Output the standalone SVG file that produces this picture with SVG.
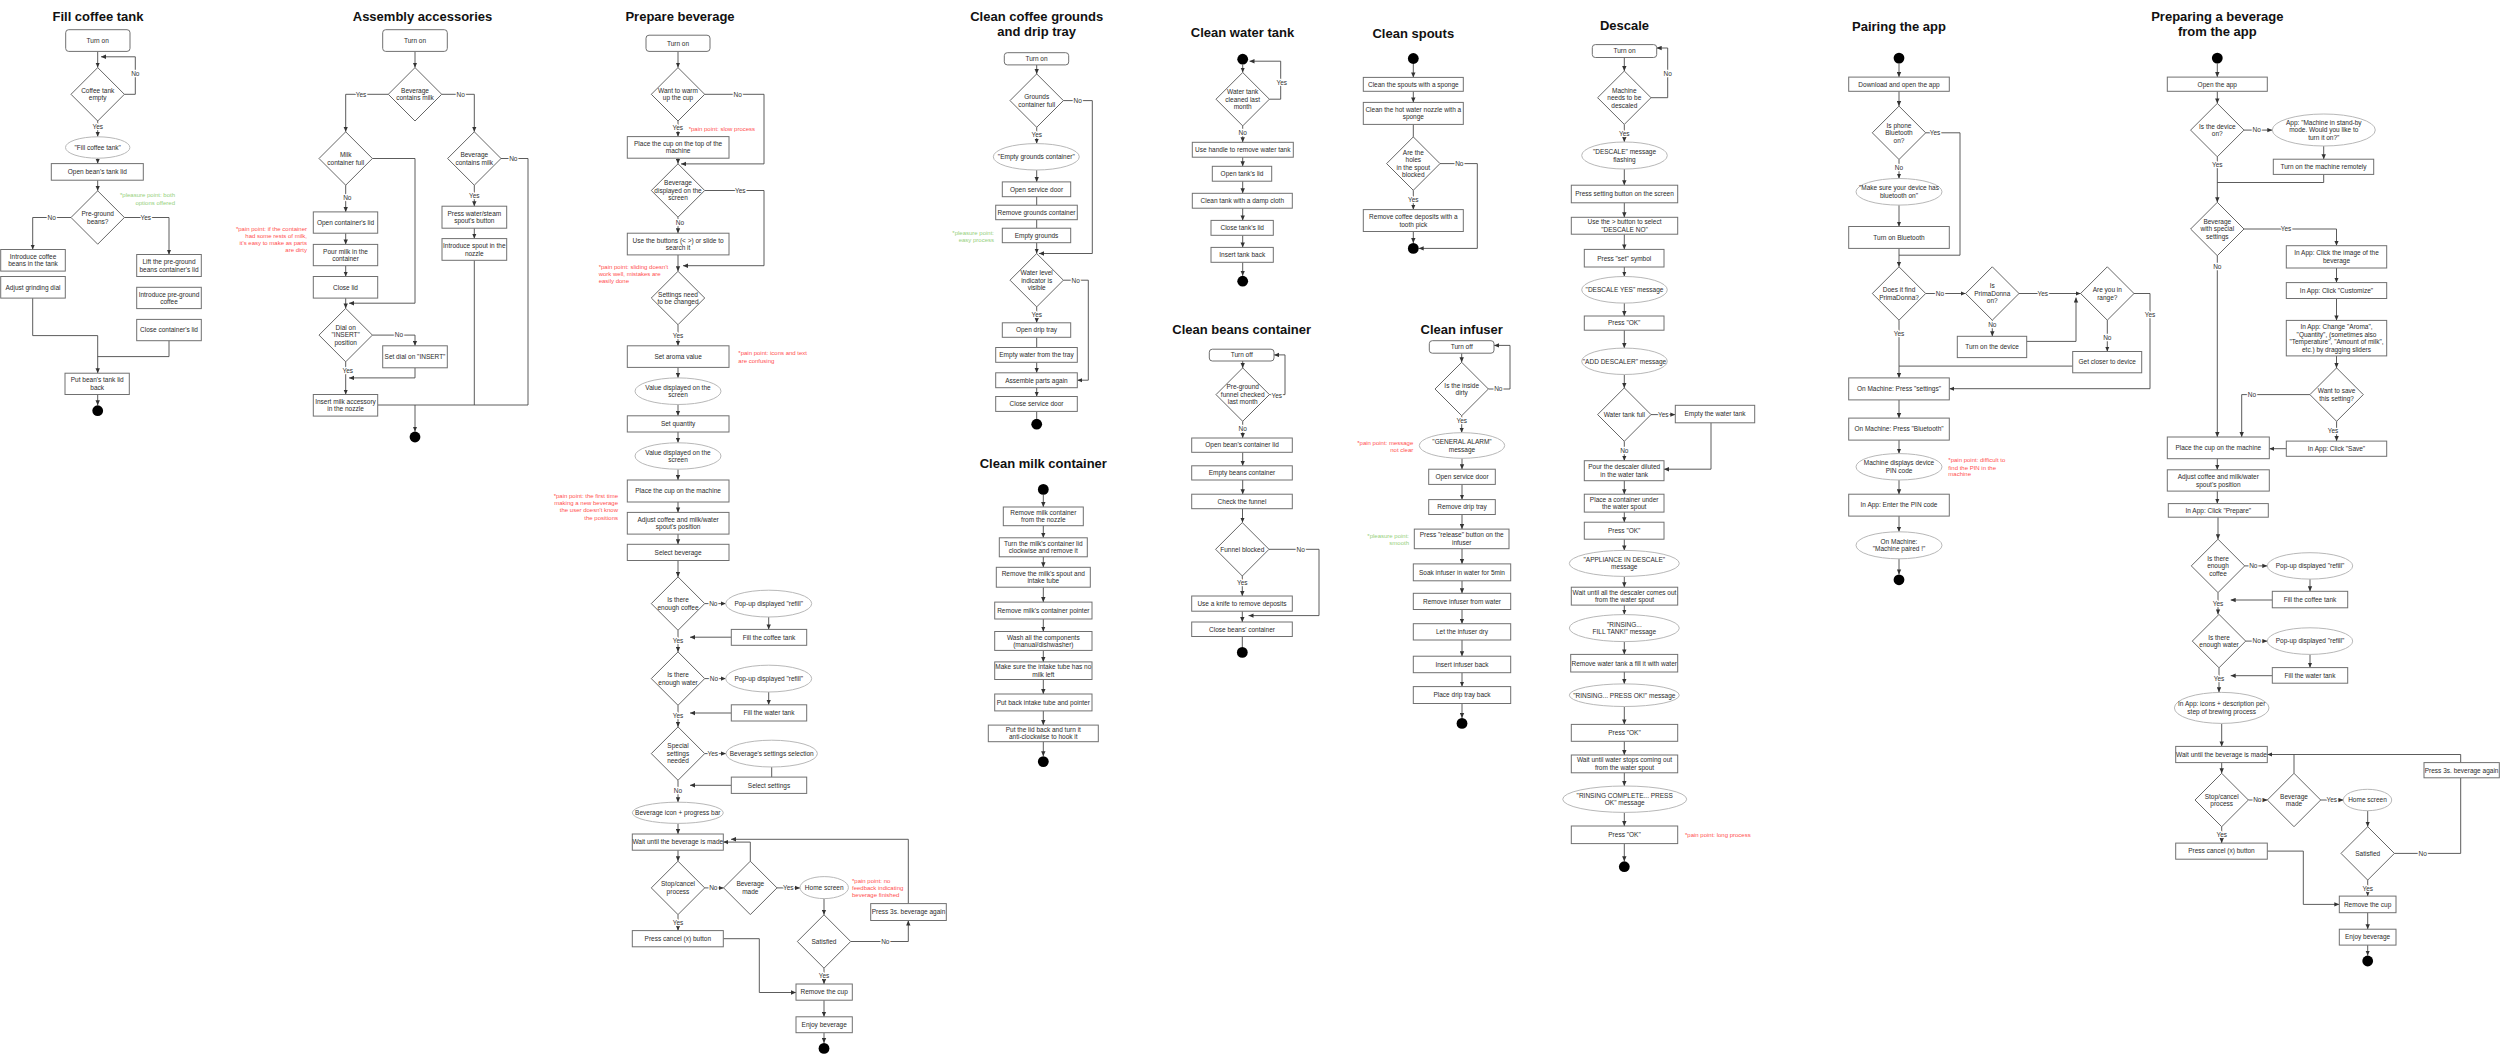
<svg xmlns="http://www.w3.org/2000/svg" width="2500" height="1055" viewBox="0 0 2500 1055">
<defs>
<style>
text{font-family:"Liberation Sans",Arial,sans-serif;}
.h{font-size:13px;font-weight:bold;fill:#111;text-anchor:middle}
.t{font-size:6.5px;fill:#2a2a2a;text-anchor:middle}
.b{fill:#fff;stroke:#707070;stroke-width:1}
.e{fill:#fff;stroke:#b8b8b8;stroke-width:1}
.d{fill:#fff;stroke:#555;stroke-width:0.9}
.k{fill:#000}
.c{fill:none;stroke:#4a4a4a;stroke-width:0.9}
.l{font-size:6.5px;fill:#333;text-anchor:middle;paint-order:stroke;stroke:#fff;stroke-width:2.5px;stroke-linejoin:round}
.p{font-size:6px;fill:#ff4f4f}
.g{font-size:6px;fill:#95d07c}
.en{text-anchor:end}
</style>
<marker id="a" viewBox="0 0 8 8" refX="8" refY="4" markerWidth="5" markerHeight="5" markerUnits="userSpaceOnUse" orient="auto"><path d="M0,0.5L8,4L0,7.5Z" fill="#333"/></marker>
</defs>
<rect width="2500" height="1055" fill="#fff"/>

<g id="titles">
<text class="h" x="98" y="21">Fill coffee tank</text>
<text class="h" x="422.5" y="21">Assembly accessories</text>
<text class="h" x="680" y="21">Prepare beverage</text>
<text class="h" x="1036.7" y="21">Clean coffee grounds<tspan x="1036.7" dy="14.5">and drip tray</tspan></text>
<text class="h" x="1043.3" y="467.5">Clean milk container</text>
<text class="h" x="1242.5" y="37.2">Clean water tank</text>
<text class="h" x="1241.7" y="334">Clean beans container</text>
<text class="h" x="1413.3" y="37.9">Clean spouts</text>
<text class="h" x="1461.7" y="334">Clean infuser</text>
<text class="h" x="1624.5" y="30.4">Descale</text>
<text class="h" x="1899" y="31.1">Pairing the app</text>
<text class="h" x="2217.3" y="21">Preparing a beverage<tspan x="2217.3" dy="14.5">from the app</tspan></text>
</g>

<g id="connectors">
<!-- Fill coffee tank -->
<path class="c" marker-end="url(#a)" d="M97.7,51.4V67.6"/>
<path class="c" marker-end="url(#a)" d="M124.4,94.3H135.3V56.8H101"/>
<path class="c" marker-end="url(#a)" d="M97.7,121V136.8"/>
<path class="c" marker-end="url(#a)" d="M97.7,158.2V163.6"/>
<path class="c" marker-end="url(#a)" d="M97.7,180.2V190.8"/>
<path class="c" marker-end="url(#a)" d="M71,217.5H32.7V249.5"/>
<path class="c" marker-end="url(#a)" d="M124.4,217.5H169V254.5"/>
<path class="c" d="M32.7,298.1V335.6H97.7"/>
<path class="c" d="M169,340.7V356.6H97.7"/>
<path class="c" marker-end="url(#a)" d="M97.7,335.6V373.2"/>
<path class="c" marker-end="url(#a)" d="M97.7,394.5V405.3"/>
<!-- Assembly accessories -->
<path class="c" marker-end="url(#a)" d="M415,51.4V67.6"/>
<path class="c" marker-end="url(#a)" d="M388.3,94.3H345.7V131.8"/>
<path class="c" marker-end="url(#a)" d="M441.7,94.3H474.3V131.8"/>
<path class="c" marker-end="url(#a)" d="M372.4,158.5H415V303.2H349"/>
<path class="c" marker-end="url(#a)" d="M345.7,185.2V211.9"/>
<path class="c" marker-end="url(#a)" d="M345.7,233.2V244.4"/>
<path class="c" marker-end="url(#a)" d="M345.7,265.7V276.5"/>
<path class="c" marker-end="url(#a)" d="M345.7,298.1V308.4"/>
<path class="c" marker-end="url(#a)" d="M372.4,335.1H415V345.8"/>
<path class="c" marker-end="url(#a)" d="M415,367.8V377.9H349"/>
<path class="c" marker-end="url(#a)" d="M345.7,361.8V394.5"/>
<path class="c" d="M377.7,405H415"/>
<path class="c" d="M501,158.5H528V405H415"/>
<path class="c" marker-end="url(#a)" d="M474.3,185.2V206.2"/>
<path class="c" marker-end="url(#a)" d="M474.3,228.2V238.6"/>
<path class="c" d="M474.3,260.3V405"/>
<path class="c" marker-end="url(#a)" d="M415,405V431.6"/>
<!-- Prepare beverage -->
<path class="c" marker-end="url(#a)" d="M678,51.4V67.6"/>
<path class="c" marker-end="url(#a)" d="M704.7,94.3H764V163.9H681"/>
<path class="c" marker-end="url(#a)" d="M678,121V136.6"/>
<path class="c" marker-end="url(#a)" d="M678,158.2V163.8"/>
<path class="c" marker-end="url(#a)" d="M704.7,190.5H764V265.7H683"/>
<path class="c" marker-end="url(#a)" d="M678,217.2V233.2"/>
<path class="c" marker-end="url(#a)" d="M678,254.9V271.3"/>
<path class="c" marker-end="url(#a)" d="M678,324.7V345.8"/>
<path class="c" marker-end="url(#a)" d="M678,367.4V377.9"/>
<path class="c" marker-end="url(#a)" d="M678,404.5V415.8"/>
<path class="c" marker-end="url(#a)" d="M678,432V442.8"/>
<path class="c" marker-end="url(#a)" d="M678,469.2V480"/>
<path class="c" marker-end="url(#a)" d="M678,502V512.4"/>
<path class="c" marker-end="url(#a)" d="M678,534.1V544.3"/>
<path class="c" marker-end="url(#a)" d="M678,560.5V576.9"/>
<path class="c" marker-end="url(#a)" d="M704.7,603.6H725.7"/>
<path class="c" marker-end="url(#a)" d="M768.7,617V629.4"/>
<path class="c" marker-end="url(#a)" d="M731.3,637.2H690"/>
<path class="c" marker-end="url(#a)" d="M678,630.3V651.9"/>
<path class="c" marker-end="url(#a)" d="M704.7,678.6H725.7"/>
<path class="c" marker-end="url(#a)" d="M768.7,692V704.8"/>
<path class="c" marker-end="url(#a)" d="M731.3,713H690"/>
<path class="c" marker-end="url(#a)" d="M678,705.3V726.9"/>
<path class="c" marker-end="url(#a)" d="M704.7,753.6H726"/>
<path class="c" d="M771.7,767V777.1"/>
<path class="c" marker-end="url(#a)" d="M731.3,785.3H690"/>
<path class="c" marker-end="url(#a)" d="M678,780.3V802.2"/>
<path class="c" marker-end="url(#a)" d="M678,823.4V834"/>
<path class="c" marker-end="url(#a)" d="M678,850.2V861.2"/>
<path class="c" marker-end="url(#a)" d="M704.7,887.9H723.6"/>
<path class="c" marker-end="url(#a)" d="M750.3,861.2V842.1H723.3"/>
<path class="c" marker-end="url(#a)" d="M777,887.9H800"/>
<path class="c" marker-end="url(#a)" d="M824,898.6V914.8"/>
<path class="c" marker-end="url(#a)" d="M850.7,941.5H908.3V920.5"/>
<path class="c" marker-end="url(#a)" d="M908.3,903.6V839.3H731"/>
<path class="c" marker-end="url(#a)" d="M678,914.6V930.6"/>
<path class="c" marker-end="url(#a)" d="M723.3,938.7H759.3V992.5H796"/>
<path class="c" marker-end="url(#a)" d="M824,968.2V984"/>
<path class="c" marker-end="url(#a)" d="M824,1000.2V1016.8"/>
<path class="c" marker-end="url(#a)" d="M824,1032.7V1043"/>
<!-- Clean coffee grounds -->
<path class="c" marker-end="url(#a)" d="M1036.7,64.9V73.9"/>
<path class="c" marker-end="url(#a)" d="M1063.4,100.6H1092.3V253.5H1039"/>
<path class="c" marker-end="url(#a)" d="M1036.7,127.3V143.6"/>
<path class="c" marker-end="url(#a)" d="M1036.7,170V181.9"/>
<path class="c" d="M1036.7,196.7V205.2"/>
<path class="c" d="M1036.7,219.7V228.2"/>
<path class="c" marker-end="url(#a)" d="M1036.7,242.7V253.5"/>
<path class="c" marker-end="url(#a)" d="M1063.4,280.2H1088.3V380.2H1077.3"/>
<path class="c" marker-end="url(#a)" d="M1036.7,306.9V322.8"/>
<path class="c" d="M1036.7,337.3V347.5"/>
<path class="c" marker-end="url(#a)" d="M1036.7,362.3V372.8"/>
<path class="c" marker-end="url(#a)" d="M1036.7,387.7V396.5"/>
<path class="c" d="M1036.7,411.4V418.8"/>
<!-- Clean milk container -->
<path class="c" marker-end="url(#a)" d="M1043.3,494.8V507"/>
<path class="c" marker-end="url(#a)" d="M1043.3,525.7V537.8"/>
<path class="c" marker-end="url(#a)" d="M1043.3,556.8V567.3"/>
<path class="c" marker-end="url(#a)" d="M1043.3,587.2V602.1"/>
<path class="c" marker-end="url(#a)" d="M1043.3,619V631.5"/>
<path class="c" marker-end="url(#a)" d="M1043.3,650.4V661.9"/>
<path class="c" marker-end="url(#a)" d="M1043.3,679.5V694"/>
<path class="c" marker-end="url(#a)" d="M1043.3,710.9V725.1"/>
<path class="c" marker-end="url(#a)" d="M1043.3,741.7V756.2"/>
<!-- Clean water tank -->
<path class="c" marker-end="url(#a)" d="M1242.7,64.6V72.5"/>
<path class="c" marker-end="url(#a)" d="M1269.4,99.2H1280.7V61.2H1249.5"/>
<path class="c" marker-end="url(#a)" d="M1242.7,125.9V142.3"/>
<path class="c" marker-end="url(#a)" d="M1242.7,157.2V166.3"/>
<path class="c" marker-end="url(#a)" d="M1242.7,181.2V193.3"/>
<path class="c" marker-end="url(#a)" d="M1242.7,208.2V220.4"/>
<path class="c" marker-end="url(#a)" d="M1242.7,235.3V247.4"/>
<path class="c" marker-end="url(#a)" d="M1242.7,262.3V275.8"/>
<!-- Clean beans container -->
<path class="c" marker-end="url(#a)" d="M1242.7,361V367.9"/>
<path class="c" marker-end="url(#a)" d="M1269.4,394.6H1285V354.9H1274"/>
<path class="c" marker-end="url(#a)" d="M1242.7,421.3V438"/>
<path class="c" marker-end="url(#a)" d="M1242.7,452.3V465.8"/>
<path class="c" marker-end="url(#a)" d="M1242.7,480V494.2"/>
<path class="c" marker-end="url(#a)" d="M1242.5,508.7V522.6"/>
<path class="c" marker-end="url(#a)" d="M1269,549.3H1319V615.6H1248.5"/>
<path class="c" marker-end="url(#a)" d="M1242.3,576V596"/>
<path class="c" marker-end="url(#a)" d="M1242.3,611.2V622"/>
<path class="c" d="M1242.3,636.5V647"/>
<!-- Clean spouts -->
<path class="c" marker-end="url(#a)" d="M1413.3,63.9V77.4"/>
<path class="c" marker-end="url(#a)" d="M1413.3,91.3V102.4"/>
<path class="c" d="M1413.3,124.4V136.9"/>
<path class="c" marker-end="url(#a)" d="M1440,163.6H1477.3V248.4H1418.7"/>
<path class="c" marker-end="url(#a)" d="M1413.3,190.3V209.6"/>
<path class="c" marker-end="url(#a)" d="M1413.3,231.5V243"/>
<!-- Clean infuser -->
<path class="c" marker-end="url(#a)" d="M1461.7,353.2V362.3"/>
<path class="c" marker-end="url(#a)" d="M1488.4,389H1510V345.4H1494"/>
<path class="c" marker-end="url(#a)" d="M1461.7,415.7V432.7"/>
<path class="c" marker-end="url(#a)" d="M1462,458.3V469.2"/>
<path class="c" marker-end="url(#a)" d="M1462,484.4V499.6"/>
<path class="c" marker-end="url(#a)" d="M1462,514.5V529.1"/>
<path class="c" marker-end="url(#a)" d="M1462,548.7V563.9"/>
<path class="c" marker-end="url(#a)" d="M1462,580.8V593.3"/>
<path class="c" marker-end="url(#a)" d="M1462,609.5V623.7"/>
<path class="c" marker-end="url(#a)" d="M1462,640V656.2"/>
<path class="c" marker-end="url(#a)" d="M1462,672.7V686.6"/>
<path class="c" marker-end="url(#a)" d="M1462,703.5V718"/>
<!-- Descale -->
<path class="c" marker-end="url(#a)" d="M1624.3,57.5V71"/>
<path class="c" marker-end="url(#a)" d="M1651,97.7H1667.7V48H1656.7"/>
<path class="c" marker-end="url(#a)" d="M1624.3,124.4V142"/>
<path class="c" marker-end="url(#a)" d="M1624.3,169V185.2"/>
<path class="c" marker-end="url(#a)" d="M1624.3,202.8V217.3"/>
<path class="c" marker-end="url(#a)" d="M1624.3,234.2V249.4"/>
<path class="c" marker-end="url(#a)" d="M1624.3,267V276.5"/>
<path class="c" marker-end="url(#a)" d="M1624.3,303.1V316"/>
<path class="c" marker-end="url(#a)" d="M1624.3,330.2V348.1"/>
<path class="c" marker-end="url(#a)" d="M1624.3,374.5V387.9"/>
<path class="c" marker-end="url(#a)" d="M1651,414.6H1675.3"/>
<path class="c" marker-end="url(#a)" d="M1711,422.8V469.2H1664"/>
<path class="c" marker-end="url(#a)" d="M1624.3,441.3V460.7"/>
<path class="c" marker-end="url(#a)" d="M1624.3,480.7V494.2"/>
<path class="c" marker-end="url(#a)" d="M1624.3,512.1V522.2"/>
<path class="c" marker-end="url(#a)" d="M1624.3,539.2V550.4"/>
<path class="c" marker-end="url(#a)" d="M1624.3,576.4V587.2"/>
<path class="c" marker-end="url(#a)" d="M1624.3,605.1V614.6"/>
<path class="c" marker-end="url(#a)" d="M1624.3,641.6V654.4"/>
<path class="c" marker-end="url(#a)" d="M1624.3,672V683.9"/>
<path class="c" marker-end="url(#a)" d="M1624.3,706.5V724.4"/>
<path class="c" marker-end="url(#a)" d="M1624.3,741.3V755"/>
<path class="c" marker-end="url(#a)" d="M1624.3,772.8V786"/>
<path class="c" marker-end="url(#a)" d="M1624.3,812.4V826"/>
<path class="c" marker-end="url(#a)" d="M1624.3,843.6V861.3"/>
<!-- Pairing the app -->
<path class="c" marker-end="url(#a)" d="M1899,63.5V77.1"/>
<path class="c" marker-end="url(#a)" d="M1899,91.3V106.1"/>
<path class="c" d="M1925.7,132.8H1960V255.2H1899"/>
<path class="c" marker-end="url(#a)" d="M1899,159.5V178.5"/>
<path class="c" marker-end="url(#a)" d="M1899,205.1V226.5"/>
<path class="c" marker-end="url(#a)" d="M1899,248.4V266.8"/>
<path class="c" marker-end="url(#a)" d="M1925.7,293.5H1965.6"/>
<path class="c" marker-end="url(#a)" d="M2019,293.5H2080.6"/>
<path class="c" marker-end="url(#a)" d="M1992.3,320.2V336.3"/>
<path class="c" marker-end="url(#a)" d="M2026.7,341.4H2076V297.5"/>
<path class="c" marker-end="url(#a)" d="M2107.3,320.2V351.5"/>
<path class="c" d="M2072.7,366.1H1899"/>
<path class="c" marker-end="url(#a)" d="M2134,293.5H2150V388.7H1949.3"/>
<path class="c" marker-end="url(#a)" d="M1899,320.2V377.9"/>
<path class="c" marker-end="url(#a)" d="M1899,399.9V418.1"/>
<path class="c" marker-end="url(#a)" d="M1899,440.1V453.6"/>
<path class="c" marker-end="url(#a)" d="M1899,480V494.2"/>
<path class="c" marker-end="url(#a)" d="M1899,516.1V531.8"/>
<path class="c" marker-end="url(#a)" d="M1899,558.8V574.4"/>
<!-- Preparing from the app -->
<path class="c" marker-end="url(#a)" d="M2217.3,63.5V77.1"/>
<path class="c" marker-end="url(#a)" d="M2217.3,91.3V103.4"/>
<path class="c" marker-end="url(#a)" d="M2244,130.1H2272.3"/>
<path class="c" marker-end="url(#a)" d="M2323.7,146V159.2"/>
<path class="c" d="M2323.7,174.4V182.5H2217.3"/>
<path class="c" marker-end="url(#a)" d="M2217.3,156.8V202.3"/>
<path class="c" marker-end="url(#a)" d="M2244,229H2336.5V245.7"/>
<path class="c" marker-end="url(#a)" d="M2336.5,268V282.6"/>
<path class="c" marker-end="url(#a)" d="M2336.5,298.5V320.4"/>
<path class="c" marker-end="url(#a)" d="M2336.5,355.9V367.9"/>
<path class="c" marker-end="url(#a)" d="M2309.9,394.6H2241.7V437"/>
<path class="c" marker-end="url(#a)" d="M2336.6,421.3V441.1"/>
<path class="c" marker-end="url(#a)" d="M2286.3,448.7H2269.3"/>
<path class="c" marker-end="url(#a)" d="M2217.3,255.7V437"/>
<path class="c" marker-end="url(#a)" d="M2217.3,458.7V469.8"/>
<path class="c" marker-end="url(#a)" d="M2217.3,491.1V503.6"/>
<path class="c" marker-end="url(#a)" d="M2218,517.2V539.2"/>
<path class="c" marker-end="url(#a)" d="M2244.7,565.9H2267.3"/>
<path class="c" marker-end="url(#a)" d="M2310,579.1V591.3"/>
<path class="c" marker-end="url(#a)" d="M2272.3,600H2230.7"/>
<path class="c" marker-end="url(#a)" d="M2218,592.6V614.4"/>
<path class="c" marker-end="url(#a)" d="M2245.7,641.1H2267.3"/>
<path class="c" marker-end="url(#a)" d="M2310,654.4V667.6"/>
<path class="c" marker-end="url(#a)" d="M2272.3,675.7H2230.7"/>
<path class="c" marker-end="url(#a)" d="M2219,667.8V692.3"/>
<path class="c" marker-end="url(#a)" d="M2221.7,723.4V746.4"/>
<path class="c" marker-end="url(#a)" d="M2221.7,762.6V773.3"/>
<path class="c" marker-end="url(#a)" d="M2248.4,800H2267.3"/>
<path class="c" d="M2294,773.3V754.5"/>
<path class="c" marker-end="url(#a)" d="M2460.7,762.6V754.5H2267.3"/>
<path class="c" marker-end="url(#a)" d="M2320.7,800H2343.3"/>
<path class="c" marker-end="url(#a)" d="M2367.7,810.7V826.7"/>
<path class="c" d="M2394.4,853.4H2460.7V777.8"/>
<path class="c" marker-end="url(#a)" d="M2221.7,826.7V843.1"/>
<path class="c" marker-end="url(#a)" d="M2267.3,851.1H2303.3V904.4H2339.3"/>
<path class="c" marker-end="url(#a)" d="M2367.7,880.1V896.1"/>
<path class="c" marker-end="url(#a)" d="M2367.7,912.7V929.2"/>
<path class="c" marker-end="url(#a)" d="M2367.7,945.1V955.6"/>
</g>

<g id="edge-labels">
<text class="l" x="135.3" y="76">No</text>
<text class="l" x="97.7" y="129.1">Yes</text>
<text class="l" x="51.7" y="219.8">No</text>
<text class="l" x="145.7" y="219.8">Yes</text>
<text class="l" x="361" y="96.6">Yes</text>
<text class="l" x="460.7" y="96.6">No</text>
<text class="l" x="347.3" y="199.7">No</text>
<text class="l" x="399" y="337.4">No</text>
<text class="l" x="347.7" y="373.1">Yes</text>
<text class="l" x="513.3" y="160.8">No</text>
<text class="l" x="474.3" y="197.7">Yes</text>
<text class="l" x="737.7" y="96.6">No</text>
<text class="l" x="677.7" y="130.1">Yes</text>
<text class="l" x="740.3" y="192.8">Yes</text>
<text class="l" x="680" y="225">No</text>
<text class="l" x="678" y="337.9">Yes</text>
<text class="l" x="713.3" y="605.9">No</text>
<text class="l" x="678" y="643.3">Yes</text>
<text class="l" x="714" y="680.9">No</text>
<text class="l" x="678" y="718.3">Yes</text>
<text class="l" x="712.7" y="755.9">Yes</text>
<text class="l" x="678" y="793.3">No</text>
<text class="l" x="713.3" y="890.2">No</text>
<text class="l" x="788.3" y="890.2">Yes</text>
<text class="l" x="885.3" y="943.8">No</text>
<text class="l" x="678" y="924.8">Yes</text>
<text class="l" x="824" y="977.8">Yes</text>
<text class="l" x="1077.7" y="102.9">No</text>
<text class="l" x="1036.7" y="136.8">Yes</text>
<text class="l" x="1075.7" y="282.5">No</text>
<text class="l" x="1036.7" y="316.6">Yes</text>
<text class="l" x="1281.7" y="85.1">Yes</text>
<text class="l" x="1242.7" y="134.5">No</text>
<text class="l" x="1276.7" y="397.8">Yes</text>
<text class="l" x="1242.7" y="430.6">No</text>
<text class="l" x="1300.7" y="551.8">No</text>
<text class="l" x="1242.3" y="584.8">Yes</text>
<text class="l" x="1459.3" y="166">No</text>
<text class="l" x="1413.3" y="202.4">Yes</text>
<text class="l" x="1498.3" y="391.4">No</text>
<text class="l" x="1461.7" y="423.1">Yes</text>
<text class="l" x="1667.7" y="75.6">No</text>
<text class="l" x="1624.3" y="135.8">Yes</text>
<text class="l" x="1663.3" y="416.9">Yes</text>
<text class="l" x="1624.3" y="452.9">No</text>
<text class="l" x="1935" y="135.1">Yes</text>
<text class="l" x="1899" y="169.6">No</text>
<text class="l" x="1940" y="295.8">No</text>
<text class="l" x="2042.7" y="295.8">Yes</text>
<text class="l" x="1992.3" y="326.8">No</text>
<text class="l" x="2107.3" y="340.3">No</text>
<text class="l" x="2150" y="316.6">Yes</text>
<text class="l" x="1899" y="335.9">Yes</text>
<text class="l" x="2256.7" y="132.4">No</text>
<text class="l" x="2217.3" y="167.3">Yes</text>
<text class="l" x="2286" y="231.3">Yes</text>
<text class="l" x="2252" y="396.9">No</text>
<text class="l" x="2333" y="432.6">Yes</text>
<text class="l" x="2217.3" y="268.7">No</text>
<text class="l" x="2253.3" y="568.2">No</text>
<text class="l" x="2218" y="605.7">Yes</text>
<text class="l" x="2256.7" y="643.4">No</text>
<text class="l" x="2219" y="681.1">Yes</text>
<text class="l" x="2257.3" y="802.3">No</text>
<text class="l" x="2331.7" y="802.3">Yes</text>
<text class="l" x="2422.7" y="855.8">No</text>
<text class="l" x="2221.7" y="836.8">Yes</text>
<text class="l" x="2367.7" y="890.8">Yes</text>
</g>

<g id="notes">
<text class="g en" x="175" y="197.4">*pleasure point: both<tspan x="175" dy="7.4">options offered</tspan></text>
<text class="p en" x="307" y="230.5">*pain point: if the container<tspan x="307" dy="7">had some rests of milk,</tspan><tspan x="307" dy="7">it's easy to make as parts</tspan><tspan x="307" dy="7">are dirty</tspan></text>
<text class="p" x="688.7" y="131">*pain point: slow process</text>
<text class="p" x="598.7" y="268.7">*pain point: sliding doesn't<tspan x="598.7" dy="7">work well, mistakes are</tspan><tspan x="598.7" dy="7">easily done</tspan></text>
<text class="p" x="738.3" y="355.2">*pain point: icons and text<tspan x="738.3" dy="7.4">are confusing</tspan></text>
<text class="p en" x="618" y="498.2">*pain point: the first time<tspan x="618" dy="7.1">making a new beverage</tspan><tspan x="618" dy="7.1">the user doesn't know</tspan><tspan x="618" dy="7.1">the positions</tspan></text>
<text class="p" x="852" y="882.6">*pain point: no<tspan x="852" dy="7.1">feedback indicating</tspan><tspan x="852" dy="7.1">beverage finished</tspan></text>
<text class="g en" x="994" y="234.9">*pleasure point:<tspan x="994" dy="7.1">easy process</tspan></text>
<text class="p en" x="1413.3" y="444.8">*pain point: message<tspan x="1413.3" dy="6.8">not clear</tspan></text>
<text class="g en" x="1409" y="538.2">*pleasure point:<tspan x="1409" dy="6.7">smooth</tspan></text>
<text class="p" x="1685" y="837.2">*pain point: long process</text>
<text class="p" x="1948.3" y="462.4">*pain point: difficult to<tspan x="1948.3" dy="7.1">find the PIN in the</tspan><tspan x="1948.3" dy="6.8">machine</tspan></text>
</g>

<!-- ===== Fill coffee tank ===== -->
<g id="fct-turnon"><rect class="b" x="65.7" y="29.7" width="64.3" height="21.7" rx="3"/><text class="t" x="97.7" y="42.9">Turn on</text></g>
<g id="fct-d1"><polygon class="d" points="97.7,67.6 124.4,94.3 97.7,121 71,94.3"/><text class="t" x="97.7" y="92.85">Coffee tank<tspan x="97.7" dy="7.5">empty</tspan></text></g>
<g id="fct-e1"><ellipse class="e" cx="97.7" cy="147.5" rx="32.2" ry="10.7"/><text class="t" x="97.7" y="149.8">"Fill coffee tank"</text></g>
<g id="fct-r1"><rect class="b" x="51.3" y="163.6" width="92" height="16.6"/><text class="t" x="97.3" y="174.2">Open bean's tank lid</text></g>
<g id="fct-d2"><polygon class="d" points="97.7,190.8 124.4,217.5 97.7,244.2 71,217.5"/><text class="t" x="97.7" y="216.05">Pre-ground<tspan x="97.7" dy="7.5">beans?</tspan></text></g>
<g id="fct-r2"><rect class="b" x="0.7" y="249.5" width="64.6" height="21.6"/><text class="t" x="33" y="258.85">Introduce coffee<tspan x="33" dy="7.5">beans in the tank</tspan></text></g>
<g id="fct-r3"><rect class="b" x="0.7" y="276.5" width="64.6" height="21.6"/><text class="t" x="33" y="289.6">Adjust grinding dial</text></g>
<g id="fct-r4"><rect class="b" x="136.7" y="254.5" width="64.6" height="22"/><text class="t" x="169" y="264.05">Lift the pre-ground<tspan x="169" dy="7.5">beans container's lid</tspan></text></g>
<g id="fct-r5"><rect class="b" x="136.7" y="287.3" width="64.6" height="21.3"/><text class="t" x="169" y="296.5">Introduce pre-ground<tspan x="169" dy="7.5">coffee</tspan></text></g>
<g id="fct-r6"><rect class="b" x="136.7" y="319.4" width="64.6" height="21.3"/><text class="t" x="169" y="332.35">Close container's lid</text></g>
<g id="fct-r7"><rect class="b" x="65" y="373.2" width="64.3" height="21.3"/><text class="t" x="97.2" y="382.4">Put bean's tank lid<tspan x="97.2" dy="7.5">back</tspan></text></g>
<g id="fct-end"><circle class="k" cx="97.7" cy="410.7" r="5.4"/></g>

<!-- ===== Assembly accessories ===== -->
<g id="aa-turnon"><rect class="b" x="382.7" y="29.7" width="64.6" height="21.7" rx="3"/><text class="t" x="415" y="42.9">Turn on</text></g>
<g id="aa-d1"><polygon class="d" points="415,67.6 441.7,94.3 415,121 388.3,94.3"/><text class="t" x="415" y="92.85">Beverage<tspan x="415" dy="7.5">contains milk</tspan></text></g>
<g id="aa-d2"><polygon class="d" points="345.7,131.8 372.4,158.5 345.7,185.2 319,158.5"/><text class="t" x="345.7" y="157.05">Milk<tspan x="345.7" dy="7.5">container full</tspan></text></g>
<g id="aa-r1"><rect class="b" x="313.3" y="211.9" width="64.4" height="21.3"/><text class="t" x="345.5" y="224.85">Open container's lid</text></g>
<g id="aa-r2"><rect class="b" x="313.3" y="244.4" width="64.4" height="21.3"/><text class="t" x="345.5" y="253.6">Pour milk in the<tspan x="345.5" dy="7.5">container</tspan></text></g>
<g id="aa-r3"><rect class="b" x="313.3" y="276.5" width="64.4" height="21.6"/><text class="t" x="345.5" y="289.6">Close lid</text></g>
<g id="aa-d3"><polygon class="d" points="345.7,308.4 372.4,335.1 345.7,361.8 319,335.1"/><text class="t" x="345.7" y="329.9">Dial on<tspan x="345.7" dy="7.5">"INSERT"</tspan><tspan x="345.7" dy="7.5">position</tspan></text></g>
<g id="aa-r4"><rect class="b" x="382.7" y="345.8" width="64.6" height="22"/><text class="t" x="415" y="359.1">Set dial on "INSERT"</text></g>
<g id="aa-r5"><rect class="b" x="313.3" y="394.5" width="64.4" height="21.6"/><text class="t" x="345.5" y="403.85">Insert milk accessory<tspan x="345.5" dy="7.5">in the nozzle</tspan></text></g>
<g id="aa-end"><circle class="k" cx="415" cy="437" r="5.4"/></g>
<g id="aa-d4"><polygon class="d" points="474.3,131.8 501,158.5 474.3,185.2 447.6,158.5"/><text class="t" x="474.3" y="157.05">Beverage<tspan x="474.3" dy="7.5">contains milk</tspan></text></g>
<g id="aa-r6"><rect class="b" x="442" y="206.2" width="64.7" height="22"/><text class="t" x="474.3" y="215.75">Press water/steam<tspan x="474.3" dy="7.5">spout's button</tspan></text></g>
<g id="aa-r7"><rect class="b" x="442" y="238.6" width="64.7" height="21.7"/><text class="t" x="474.3" y="248">Introduce spout in the<tspan x="474.3" dy="7.5">nozzle</tspan></text></g>

<!-- ===== Prepare beverage ===== -->
<g id="pb-turnon"><rect class="b" x="646" y="35.2" width="64" height="16.2" rx="3"/><text class="t" x="678" y="45.6">Turn on</text></g>
<g id="pb-d1"><polygon class="d" points="678,67.6 704.7,94.3 678,121 651.3,94.3"/><text class="t" x="678" y="92.85">Want to warm<tspan x="678" dy="7.5">up the cup</tspan></text></g>
<g id="pb-r1"><rect class="b" x="627.3" y="136.6" width="101.7" height="21.6"/><text class="t" x="678.1" y="145.95">Place the cup on the top of the<tspan x="678.1" dy="7.5">machine</tspan></text></g>
<g id="pb-d2"><polygon class="d" points="678,163.8 704.7,190.5 678,217.2 651.3,190.5"/><text class="t" x="678" y="185.3">Beverage<tspan x="678" dy="7.5">displayed on the</tspan><tspan x="678" dy="7.5">screen</tspan></text></g>
<g id="pb-r2"><rect class="b" x="627.3" y="233.2" width="101.7" height="21.7"/><text class="t" x="678.1" y="242.6">Use the buttons (&lt; &gt;)  or slide to<tspan x="678.1" dy="7.5">search it</tspan></text></g>
<g id="pb-d3"><polygon class="d" points="678,271.3 704.7,298 678,324.7 651.3,298"/><text class="t" x="678" y="296.55">Settings need<tspan x="678" dy="7.5">to be changed</tspan></text></g>
<g id="pb-r3"><rect class="b" x="627.3" y="345.8" width="101.7" height="21.6"/><text class="t" x="678.1" y="358.9">Set aroma value</text></g>
<g id="pb-e1"><ellipse class="e" cx="678" cy="391.2" rx="43" ry="13.3"/><text class="t" x="678" y="389.75">Value displayed on the<tspan x="678" dy="7.5">screen</tspan></text></g>
<g id="pb-r4"><rect class="b" x="627.3" y="415.8" width="101.7" height="16.2"/><text class="t" x="678.1" y="426.2">Set quantity</text></g>
<g id="pb-e2"><ellipse class="e" cx="678" cy="456" rx="43" ry="13.2"/><text class="t" x="678" y="454.55">Value displayed on the<tspan x="678" dy="7.5">screen</tspan></text></g>
<g id="pb-r5"><rect class="b" x="627.3" y="480" width="101.7" height="22"/><text class="t" x="678.1" y="493.3">Place the cup on the machine</text></g>
<g id="pb-r6"><rect class="b" x="627.3" y="512.4" width="101.7" height="21.7"/><text class="t" x="678.1" y="521.8">Adjust coffee and milk/water<tspan x="678.1" dy="7.5">spout's position</tspan></text></g>
<g id="pb-r7"><rect class="b" x="627.3" y="544.3" width="101.7" height="16.2"/><text class="t" x="678.1" y="554.7">Select beverage</text></g>
<g id="pb-d4"><polygon class="d" points="678,576.9 704.7,603.6 678,630.3 651.3,603.6"/><text class="t" x="678" y="602.15">Is there<tspan x="678" dy="7.5">enough coffee</tspan></text></g>
<g id="pb-e3"><ellipse class="e" cx="768.7" cy="603.6" rx="43" ry="13.4"/><text class="t" x="768.7" y="605.9">Pop-up displayed "refill"</text></g>
<g id="pb-r8"><rect class="b" x="731.3" y="629.4" width="75.4" height="15.9"/><text class="t" x="769" y="639.65">Fill the coffee tank</text></g>
<g id="pb-d5"><polygon class="d" points="678,651.9 704.7,678.6 678,705.3 651.3,678.6"/><text class="t" x="678" y="677.15">Is there<tspan x="678" dy="7.5">enough water</tspan></text></g>
<g id="pb-e4"><ellipse class="e" cx="768.7" cy="678.6" rx="43" ry="13.4"/><text class="t" x="768.7" y="680.9">Pop-up displayed "refill"</text></g>
<g id="pb-r9"><rect class="b" x="731.3" y="704.8" width="75.4" height="16.2"/><text class="t" x="769" y="715.2">Fill the water tank</text></g>
<g id="pb-d6"><polygon class="d" points="678,726.9 704.7,753.6 678,780.3 651.3,753.6"/><text class="t" x="678" y="748.4">Special<tspan x="678" dy="7.5">settings</tspan><tspan x="678" dy="7.5">needed</tspan></text></g>
<g id="pb-e5"><ellipse class="e" cx="771.7" cy="753.6" rx="45.7" ry="13.4"/><text class="t" x="771.7" y="755.9">Beverage's settings selection</text></g>
<g id="pb-r10"><rect class="b" x="731.3" y="777.1" width="75.4" height="16.3"/><text class="t" x="769" y="787.55">Select settings</text></g>
<g id="pb-e6"><ellipse class="e" cx="677.8" cy="812.8" rx="45.5" ry="10.6"/><text class="t" x="677.8" y="815.1">Beverage icon + progress bar</text></g>
<g id="pb-r11"><rect class="b" x="632.3" y="834" width="91" height="16.2"/><text class="t" x="677.8" y="844.4">Wait until the beverage is made</text></g>
<g id="pb-d7"><polygon class="d" points="678,861.2 704.7,887.9 678,914.6 651.3,887.9"/><text class="t" x="678" y="886.45">Stop/cancel<tspan x="678" dy="7.5">process</tspan></text></g>
<g id="pb-d8"><polygon class="d" points="750.3,861.2 777,887.9 750.3,914.6 723.6,887.9"/><text class="t" x="750.3" y="886.45">Beverage<tspan x="750.3" dy="7.5">made</tspan></text></g>
<g id="pb-e7"><ellipse class="e" cx="824.2" cy="887.6" rx="24.2" ry="11"/><text class="t" x="824.2" y="889.9">Home screen</text></g>
<g id="pb-d9"><polygon class="d" points="824,914.8 850.7,941.5 824,968.2 797.3,941.5"/><text class="t" x="824" y="943.8">Satisfied</text></g>
<g id="pb-r12"><rect class="b" x="870.7" y="903.6" width="75.6" height="16.9"/><text class="t" x="908.5" y="914.35">Press 3s. beverage again</text></g>
<g id="pb-r13"><rect class="b" x="632.3" y="930.6" width="91" height="16.2"/><text class="t" x="677.8" y="941">Press cancel (x) button</text></g>
<g id="pb-r14"><rect class="b" x="796" y="984" width="56.3" height="16.2"/><text class="t" x="824.2" y="994.4">Remove the cup</text></g>
<g id="pb-r15"><rect class="b" x="796" y="1016.8" width="56.3" height="15.9"/><text class="t" x="824.2" y="1027.05">Enjoy beverage</text></g>
<g id="pb-end"><circle class="k" cx="824" cy="1048.4" r="5.4"/></g>

<!-- ===== Clean coffee grounds and drip tray ===== -->
<g id="cg-turnon"><rect class="b" x="1004.3" y="52.7" width="64.4" height="12.2" rx="3"/><text class="t" x="1036.5" y="61.1">Turn on</text></g>
<g id="cg-d1"><polygon class="d" points="1036.7,73.9 1063.4,100.6 1036.7,127.3 1010,100.6"/><text class="t" x="1036.7" y="99.15">Grounds<tspan x="1036.7" dy="7.5">container full</tspan></text></g>
<g id="cg-e1"><ellipse class="e" cx="1036.3" cy="156.8" rx="43" ry="13.2"/><text class="t" x="1036.3" y="159.1">"Empty grounds container"</text></g>
<g id="cg-r1"><rect class="b" x="1002.3" y="181.9" width="68.4" height="14.8"/><text class="t" x="1036.5" y="191.6">Open service door</text></g>
<g id="cg-r2"><rect class="b" x="995.7" y="205.2" width="81.6" height="14.5"/><text class="t" x="1036.5" y="214.75">Remove grounds container</text></g>
<g id="cg-r3"><rect class="b" x="1002.3" y="228.2" width="68.4" height="14.5"/><text class="t" x="1036.5" y="237.75">Empty grounds</text></g>
<g id="cg-d2"><polygon class="d" points="1036.7,253.5 1063.4,280.2 1036.7,306.9 1010,280.2"/><text class="t" x="1036.7" y="275">Water level<tspan x="1036.7" dy="7.5">indicator is</tspan><tspan x="1036.7" dy="7.5">visible</tspan></text></g>
<g id="cg-r4"><rect class="b" x="1002.3" y="322.8" width="68.4" height="14.5"/><text class="t" x="1036.5" y="332.35">Open drip tray</text></g>
<g id="cg-r5"><rect class="b" x="995.7" y="347.5" width="81.6" height="14.8"/><text class="t" x="1036.5" y="357.2">Empty water from the tray</text></g>
<g id="cg-r6"><rect class="b" x="995.7" y="372.8" width="81.6" height="14.9"/><text class="t" x="1036.5" y="382.55">Assemble parts again</text></g>
<g id="cg-r7"><rect class="b" x="995.7" y="396.5" width="81.6" height="14.9"/><text class="t" x="1036.5" y="406.25">Close service door</text></g>
<g id="cg-end"><circle class="k" cx="1036.7" cy="424.2" r="5.4"/></g>

<!-- ===== Clean milk container ===== -->
<g id="cm-start"><circle class="k" cx="1043.3" cy="489.4" r="5.4"/></g>
<g id="cm-r1"><rect class="b" x="1003.3" y="507" width="80" height="18.7"/><text class="t" x="1043.3" y="514.9">Remove milk container<tspan x="1043.3" dy="7.5">from the nozzle</tspan></text></g>
<g id="cm-r2"><rect class="b" x="999.3" y="537.8" width="88" height="19"/><text class="t" x="1043.3" y="545.85">Turn the milk's container lid<tspan x="1043.3" dy="7.5">clockwise and remove it</tspan></text></g>
<g id="cm-r3"><rect class="b" x="996.3" y="567.3" width="94" height="19.9"/><text class="t" x="1043.3" y="575.8">Remove the milk's spout and<tspan x="1043.3" dy="7.5">intake tube</tspan></text></g>
<g id="cm-r4"><rect class="b" x="994.7" y="602.1" width="97.3" height="16.9"/><text class="t" x="1043.3" y="612.85">Remove milk's container pointer</text></g>
<g id="cm-r5"><rect class="b" x="994.7" y="631.5" width="97.3" height="18.9"/><text class="t" x="1043.3" y="639.5">Wash all the components<tspan x="1043.3" dy="7.5">(manual/dishwasher)</tspan></text></g>
<g id="cm-r6"><rect class="b" x="994.7" y="661.9" width="97.3" height="17.6"/><text class="t" x="1043.3" y="669.25">Make sure the intake tube has no<tspan x="1043.3" dy="7.5">milk left</tspan></text></g>
<g id="cm-r7"><rect class="b" x="994.7" y="694" width="97.3" height="16.9"/><text class="t" x="1043.3" y="704.75">Put back intake tube and pointer</text></g>
<g id="cm-r8"><rect class="b" x="988.3" y="725.1" width="110" height="16.6"/><text class="t" x="1043.3" y="731.95">Put the lid back and turn it<tspan x="1043.3" dy="7.5">anti-clockwise to hook it</tspan></text></g>
<g id="cm-end"><circle class="k" cx="1043.3" cy="761.6" r="5.4"/></g>

<!-- ===== Clean water tank ===== -->
<g id="cw-start"><circle class="k" cx="1242.7" cy="59.2" r="5.4"/></g>
<g id="cw-d"><polygon class="d" points="1242.7,72.5 1269.4,99.2 1242.7,125.9 1216,99.2"/><text class="t" x="1242.7" y="94">Water tank<tspan x="1242.7" dy="7.5">cleaned last</tspan><tspan x="1242.7" dy="7.5">month</tspan></text></g>
<g id="cw-r1"><rect class="b" x="1192.3" y="142.3" width="101" height="14.9"/><text class="t" x="1242.8" y="152.05">Use handle to remove water tank</text></g>
<g id="cw-r2"><rect class="b" x="1212.3" y="166.3" width="59.4" height="14.9"/><text class="t" x="1242" y="176.05">Open tank's lid</text></g>
<g id="cw-r3"><rect class="b" x="1192.3" y="193.3" width="100" height="14.9"/><text class="t" x="1242.3" y="203.05">Clean tank with a damp cloth</text></g>
<g id="cw-r4"><rect class="b" x="1211" y="220.4" width="62.3" height="14.9"/><text class="t" x="1242.2" y="230.15">Close tank's lid</text></g>
<g id="cw-r5"><rect class="b" x="1211" y="247.4" width="62.3" height="14.9"/><text class="t" x="1242.2" y="257.15">Insert tank back</text></g>
<g id="cw-end"><circle class="k" cx="1242.7" cy="281.2" r="5.4"/></g>

<!-- ===== Clean beans container ===== -->
<g id="cb-turnoff"><rect class="b" x="1209.3" y="349.2" width="64.7" height="11.8" rx="3"/><text class="t" x="1241.7" y="357.4">Turn off</text></g>
<g id="cb-d1"><polygon class="d" points="1242.7,367.9 1269.4,394.6 1242.7,421.3 1216,394.6"/><text class="t" x="1242.7" y="389.4">Pre-ground<tspan x="1242.7" dy="7.5">funnel checked</tspan><tspan x="1242.7" dy="7.5">last month</tspan></text></g>
<g id="cb-r1"><rect class="b" x="1191.7" y="438" width="100.6" height="14.3"/><text class="t" x="1242" y="447.45">Open bean's container lid</text></g>
<g id="cb-r2"><rect class="b" x="1191.7" y="465.8" width="100.6" height="14.2"/><text class="t" x="1242" y="475.2">Empty beans container</text></g>
<g id="cb-r3"><rect class="b" x="1191.7" y="494.2" width="100.6" height="14.5"/><text class="t" x="1242" y="503.75">Check the funnel</text></g>
<g id="cb-d2"><polygon class="d" points="1242.3,522.6 1269,549.3 1242.3,576 1215.6,549.3"/><text class="t" x="1242.3" y="551.6">Funnel blocked</text></g>
<g id="cb-r4"><rect class="b" x="1191.7" y="596" width="100.6" height="15.2"/><text class="t" x="1242" y="605.9">Use a knife to remove deposits</text></g>
<g id="cb-r5"><rect class="b" x="1191.7" y="622" width="100.6" height="14.5"/><text class="t" x="1242" y="631.55">Close beans' container</text></g>
<g id="cb-end"><circle class="k" cx="1242.3" cy="652.4" r="5.4"/></g>

<!-- ===== Clean spouts ===== -->
<g id="cs-start"><circle class="k" cx="1413.3" cy="58.5" r="5.4"/></g>
<g id="cs-r1"><rect class="b" x="1363.3" y="77.4" width="100" height="13.9"/><text class="t" x="1413.3" y="86.65">Clean the spouts with a sponge</text></g>
<g id="cs-r2"><rect class="b" x="1363.3" y="102.4" width="100" height="22"/><text class="t" x="1413.3" y="111.95">Clean the hot water nozzle with a<tspan x="1413.3" dy="7.5">sponge</tspan></text></g>
<g id="cs-d"><polygon class="d" points="1413.3,136.9 1440,163.6 1413.3,190.3 1386.6,163.6"/><text class="t" x="1413.3" y="154.65">Are the<tspan x="1413.3" dy="7.5">holes</tspan><tspan x="1413.3" dy="7.5">in the spout</tspan><tspan x="1413.3" dy="7.5">blocked</tspan></text></g>
<g id="cs-r3"><rect class="b" x="1363.3" y="209.6" width="100" height="21.9"/><text class="t" x="1413.3" y="219.1">Remove coffee deposits with a<tspan x="1413.3" dy="7.5">tooth pick</tspan></text></g>
<g id="cs-end"><circle class="k" cx="1413.3" cy="248.4" r="5.4"/></g>

<!-- ===== Clean infuser ===== -->
<g id="ci-turnoff"><rect class="b" x="1429.3" y="340.7" width="64.7" height="12.5" rx="3"/><text class="t" x="1461.7" y="349.25">Turn off</text></g>
<g id="ci-d"><polygon class="d" points="1461.7,362.3 1488.4,389 1461.7,415.7 1435,389"/><text class="t" x="1461.7" y="387.55">Is the inside<tspan x="1461.7" dy="7.5">dirty</tspan></text></g>
<g id="ci-e"><ellipse class="e" cx="1462" cy="445.5" rx="42.7" ry="12.8"/><text class="t" x="1462" y="444.05">"GENERAL ALARM"<tspan x="1462" dy="7.5">message</tspan></text></g>
<g id="ci-r1"><rect class="b" x="1428.7" y="469.2" width="66.6" height="15.2"/><text class="t" x="1462" y="479.1">Open service door</text></g>
<g id="ci-r2"><rect class="b" x="1428.7" y="499.6" width="66.6" height="14.9"/><text class="t" x="1462" y="509.35">Remove drip tray</text></g>
<g id="ci-r3"><rect class="b" x="1414.3" y="529.1" width="94.7" height="19.6"/><text class="t" x="1461.7" y="537.45">Press "release" button on the<tspan x="1461.7" dy="7.5">infuser</tspan></text></g>
<g id="ci-r4"><rect class="b" x="1413.3" y="563.9" width="97.4" height="16.9"/><text class="t" x="1462" y="574.65">Soak infuser in water for 5min</text></g>
<g id="ci-r5"><rect class="b" x="1413.3" y="593.3" width="97.4" height="16.2"/><text class="t" x="1462" y="603.7">Remove infuser from water</text></g>
<g id="ci-r6"><rect class="b" x="1413.3" y="623.7" width="97.4" height="16.3"/><text class="t" x="1462" y="634.15">Let the infuser dry</text></g>
<g id="ci-r7"><rect class="b" x="1413.3" y="656.2" width="97.4" height="16.5"/><text class="t" x="1462" y="666.75">Insert infuser back</text></g>
<g id="ci-r8"><rect class="b" x="1413.3" y="686.6" width="97.4" height="16.9"/><text class="t" x="1462" y="697.35">Place drip tray back</text></g>
<g id="ci-end"><circle class="k" cx="1462" cy="723.4" r="5.4"/></g>

<!-- ===== Descale ===== -->
<g id="ds-turnon"><rect class="b" x="1592.3" y="44.6" width="64.4" height="12.9" rx="3"/><text class="t" x="1624.5" y="53.35">Turn on</text></g>
<g id="ds-d1"><polygon class="d" points="1624.3,71 1651,97.7 1624.3,124.4 1597.6,97.7"/><text class="t" x="1624.3" y="92.5">Machine<tspan x="1624.3" dy="7.5">needs to be</tspan><tspan x="1624.3" dy="7.5">descaled</tspan></text></g>
<g id="ds-e1"><ellipse class="e" cx="1624.5" cy="155.5" rx="42.8" ry="13.5"/><text class="t" x="1624.5" y="154.05">"DESCALE" message<tspan x="1624.5" dy="7.5">flashing</tspan></text></g>
<g id="ds-r1"><rect class="b" x="1571.3" y="185.2" width="106.4" height="17.6"/><text class="t" x="1624.5" y="196.3">Press setting button on the screen</text></g>
<g id="ds-r2"><rect class="b" x="1571.3" y="217.3" width="106.4" height="16.9"/><text class="t" x="1624.5" y="224.3">Use the &gt; button to select<tspan x="1624.5" dy="7.5">"DESCALE NO"</tspan></text></g>
<g id="ds-r3"><rect class="b" x="1584.3" y="249.4" width="79.7" height="17.6"/><text class="t" x="1624.2" y="260.5">Press "set" symbol</text></g>
<g id="ds-e2"><ellipse class="e" cx="1624.5" cy="289.8" rx="42.8" ry="13.3"/><text class="t" x="1624.5" y="292.1">"DESCALE YES" message</text></g>
<g id="ds-r4"><rect class="b" x="1584.3" y="316" width="79.7" height="14.2"/><text class="t" x="1624.2" y="325.4">Press "OK"</text></g>
<g id="ds-e3"><ellipse class="e" cx="1624.5" cy="361.3" rx="42.8" ry="13.2"/><text class="t" x="1624.5" y="363.6">"ADD DESCALER" message</text></g>
<g id="ds-d2"><polygon class="d" points="1624.3,387.9 1651,414.6 1624.3,441.3 1597.6,414.6"/><text class="t" x="1624.3" y="416.9">Water tank full</text></g>
<g id="ds-r5"><rect class="b" x="1675.3" y="405.3" width="79.4" height="17.5"/><text class="t" x="1715" y="416.35">Empty the water tank</text></g>
<g id="ds-r6"><rect class="b" x="1584.3" y="460.7" width="79.7" height="20"/><text class="t" x="1624.2" y="469.25">Pour the descaler diluted<tspan x="1624.2" dy="7.5">in the water tank</tspan></text></g>
<g id="ds-r7"><rect class="b" x="1584.3" y="494.2" width="79.7" height="17.9"/><text class="t" x="1624.2" y="501.7">Place a container under<tspan x="1624.2" dy="7.5">the water spout</tspan></text></g>
<g id="ds-r8"><rect class="b" x="1584.3" y="522.2" width="79.7" height="17"/><text class="t" x="1624.2" y="533">Press "OK"</text></g>
<g id="ds-e4"><ellipse class="e" cx="1624.3" cy="563.4" rx="55" ry="13"/><text class="t" x="1624.3" y="561.95">"APPLIANCE IN DESCALE"<tspan x="1624.3" dy="7.5">message</tspan></text></g>
<g id="ds-r9"><rect class="b" x="1571.3" y="587.2" width="106.4" height="17.9"/><text class="t" x="1624.5" y="594.7">Wait until all the descaler comes out<tspan x="1624.5" dy="7.5">from the water spout</tspan></text></g>
<g id="ds-e5"><ellipse class="e" cx="1624.3" cy="628.1" rx="55" ry="13.5"/><text class="t" x="1624.3" y="626.65">"RINSING...<tspan x="1624.3" dy="7.5">FILL TANK!" message</tspan></text></g>
<g id="ds-r10"><rect class="b" x="1570.7" y="654.4" width="107" height="17.6"/><text class="t" x="1624.2" y="665.5">Remove water tank a fill it with water</text></g>
<g id="ds-e6"><ellipse class="e" cx="1624.3" cy="695.2" rx="55" ry="11.3"/><text class="t" x="1624.3" y="697.5">"RINSING... PRESS OK!" message</text></g>
<g id="ds-r11"><rect class="b" x="1571.3" y="724.4" width="106.4" height="16.9"/><text class="t" x="1624.5" y="735.15">Press "OK"</text></g>
<g id="ds-r12"><rect class="b" x="1571.3" y="755" width="106.4" height="17.8"/><text class="t" x="1624.5" y="762.45">Wait until water stops coming out<tspan x="1624.5" dy="7.5">from the water spout</tspan></text></g>
<g id="ds-e7"><ellipse class="e" cx="1624.7" cy="799.2" rx="62" ry="13.2"/><text class="t" x="1624.7" y="797.75">"RINSING COMPLETE... PRESS<tspan x="1624.7" dy="7.5">OK" message</tspan></text></g>
<g id="ds-r13"><rect class="b" x="1571.3" y="826" width="106.4" height="17.6"/><text class="t" x="1624.5" y="837.1">Press "OK"</text></g>
<g id="ds-end"><circle class="k" cx="1624.3" cy="866.7" r="5.4"/></g>

<!-- ===== Pairing the app ===== -->
<g id="pa-start"><circle class="k" cx="1899" cy="58.1" r="5.4"/></g>
<g id="pa-r1"><rect class="b" x="1848.7" y="77.1" width="100.6" height="14.2"/><text class="t" x="1899" y="86.5">Download and open the app</text></g>
<g id="pa-d1"><polygon class="d" points="1899,106.1 1925.7,132.8 1899,159.5 1872.3,132.8"/><text class="t" x="1899" y="127.6">Is phone<tspan x="1899" dy="7.5">Bluetooth</tspan><tspan x="1899" dy="7.5">on?</tspan></text></g>
<g id="pa-e1"><ellipse class="e" cx="1899" cy="191.8" rx="43" ry="13.3"/><text class="t" x="1899" y="190.35">"Make sure your device has<tspan x="1899" dy="7.5">bluetooth on"</tspan></text></g>
<g id="pa-r2"><rect class="b" x="1848.7" y="226.5" width="100.6" height="21.9"/><text class="t" x="1899" y="239.75">Turn on Bluetooth</text></g>
<g id="pa-d2"><polygon class="d" points="1899,266.8 1925.7,293.5 1899,320.2 1872.3,293.5"/><text class="t" x="1899" y="292.05">Does it find<tspan x="1899" dy="7.5">PrimaDonna?</tspan></text></g>
<g id="pa-d3"><polygon class="d" points="1992.3,266.8 2019,293.5 1992.3,320.2 1965.6,293.5"/><text class="t" x="1992.3" y="288.3">Is<tspan x="1992.3" dy="7.5">PrimaDonna</tspan><tspan x="1992.3" dy="7.5">on?</tspan></text></g>
<g id="pa-r3"><rect class="b" x="1957.3" y="336.3" width="69.4" height="21.3"/><text class="t" x="1992" y="349.25">Turn on the device</text></g>
<g id="pa-d4"><polygon class="d" points="2107.3,266.8 2134,293.5 2107.3,320.2 2080.6,293.5"/><text class="t" x="2107.3" y="292.05">Are you in<tspan x="2107.3" dy="7.5">range?</tspan></text></g>
<g id="pa-r4"><rect class="b" x="2072.7" y="351.5" width="69" height="21.3"/><text class="t" x="2107.2" y="364.45">Get closer to device</text></g>
<g id="pa-r5"><rect class="b" x="1848.7" y="377.9" width="100.6" height="22"/><text class="t" x="1899" y="391.2">On Machine: Press "settings"</text></g>
<g id="pa-r6"><rect class="b" x="1848.7" y="418.1" width="100.6" height="22"/><text class="t" x="1899" y="431.4">On Machine: Press "Bluetooth"</text></g>
<g id="pa-e2"><ellipse class="e" cx="1899" cy="466.8" rx="43" ry="13.2"/><text class="t" x="1899" y="465.35">Machine displays device<tspan x="1899" dy="7.5">PIN code</tspan></text></g>
<g id="pa-r7"><rect class="b" x="1848.7" y="494.2" width="100.6" height="21.9"/><text class="t" x="1899" y="507.45">In App: Enter the PIN code</text></g>
<g id="pa-e3"><ellipse class="e" cx="1899" cy="545.3" rx="43" ry="13.5"/><text class="t" x="1899" y="543.85">On Machine:<tspan x="1899" dy="7.5">"Machine paired !"</tspan></text></g>
<g id="pa-end"><circle class="k" cx="1899" cy="579.8" r="5.4"/></g>

<!-- ===== Preparing a beverage from the app ===== -->
<g id="pf-start"><circle class="k" cx="2217.3" cy="58.1" r="5.4"/></g>
<g id="pf-r1"><rect class="b" x="2167.3" y="77.1" width="100" height="14.2"/><text class="t" x="2217.3" y="86.5">Open the app</text></g>
<g id="pf-d1"><polygon class="d" points="2217.3,103.4 2244,130.1 2217.3,156.8 2190.6,130.1"/><text class="t" x="2217.3" y="128.65">Is the device<tspan x="2217.3" dy="7.5">on?</tspan></text></g>
<g id="pf-e1"><ellipse class="e" cx="2323.8" cy="130" rx="51.5" ry="16"/><text class="t" x="2323.8" y="124.8">App: "Machine in stand-by<tspan x="2323.8" dy="7.5">mode. Would you like to</tspan><tspan x="2323.8" dy="7.5">turn it on?"</tspan></text></g>
<g id="pf-r2"><rect class="b" x="2273.3" y="159.2" width="100.4" height="15.2"/><text class="t" x="2323.5" y="169.1">Turn on the machine remotely</text></g>
<g id="pf-d2"><polygon class="d" points="2217.3,202.3 2244,229 2217.3,255.7 2190.6,229"/><text class="t" x="2217.3" y="223.8">Beverage<tspan x="2217.3" dy="7.5">with special</tspan><tspan x="2217.3" dy="7.5">settings</tspan></text></g>
<g id="pf-r3"><rect class="b" x="2286.3" y="245.7" width="100.4" height="22.3"/><text class="t" x="2336.5" y="255.4">In App: Click the image of the<tspan x="2336.5" dy="7.5">beverage</tspan></text></g>
<g id="pf-r4"><rect class="b" x="2286.3" y="282.6" width="100.4" height="15.9"/><text class="t" x="2336.5" y="292.85">In App: Click "Customize"</text></g>
<g id="pf-r5"><rect class="b" x="2286.3" y="320.4" width="100.4" height="35.5"/><text class="t" x="2336.5" y="329.2">In App: Change "Aroma",<tspan x="2336.5" dy="7.5">"Quantity", (sometimes also</tspan><tspan x="2336.5" dy="7.5">"Temperature", "Amount of milk",</tspan><tspan x="2336.5" dy="7.5">etc.) by dragging sliders</tspan></text></g>
<g id="pf-d3"><polygon class="d" points="2336.6,367.9 2363.3,394.6 2336.6,421.3 2309.9,394.6"/><text class="t" x="2336.6" y="393.15">Want to save<tspan x="2336.6" dy="7.5">this setting?</tspan></text></g>
<g id="pf-r6"><rect class="b" x="2286.3" y="441.1" width="100.4" height="15.2"/><text class="t" x="2336.5" y="451">In App: Click "Save"</text></g>
<g id="pf-r7"><rect class="b" x="2167.3" y="437" width="102" height="21.7"/><text class="t" x="2218.3" y="450.15">Place the cup on the machine</text></g>
<g id="pf-r8"><rect class="b" x="2167.3" y="469.8" width="102" height="21.3"/><text class="t" x="2218.3" y="479">Adjust coffee and milk/water<tspan x="2218.3" dy="7.5">spout's position</tspan></text></g>
<g id="pf-r9"><rect class="b" x="2168.3" y="503.6" width="100" height="13.6"/><text class="t" x="2218.3" y="512.7">In App: Click "Prepare"</text></g>
<g id="pf-d4"><polygon class="d" points="2218,539.2 2244.7,565.9 2218,592.6 2191.3,565.9"/><text class="t" x="2218" y="560.7">Is there<tspan x="2218" dy="7.5">enough</tspan><tspan x="2218" dy="7.5">coffee</tspan></text></g>
<g id="pf-e2"><ellipse class="e" cx="2310" cy="565.9" rx="42.7" ry="13.2"/><text class="t" x="2310" y="568.2">Pop-up displayed "refill"</text></g>
<g id="pf-r10"><rect class="b" x="2272.3" y="591.3" width="75.4" height="16.5"/><text class="t" x="2310" y="601.85">Fill the coffee tank</text></g>
<g id="pf-d5"><polygon class="d" points="2219,614.4 2245.7,641.1 2219,667.8 2192.3,641.1"/><text class="t" x="2219" y="639.65">Is there<tspan x="2219" dy="7.5">enough water</tspan></text></g>
<g id="pf-e3"><ellipse class="e" cx="2310" cy="641.1" rx="42.7" ry="13.3"/><text class="t" x="2310" y="643.4">Pop-up displayed "refill"</text></g>
<g id="pf-r11"><rect class="b" x="2272.3" y="667.6" width="75.4" height="15.6"/><text class="t" x="2310" y="677.7">Fill the water tank</text></g>
<g id="pf-e4"><ellipse class="e" cx="2221.7" cy="707.9" rx="47.3" ry="15.5"/><text class="t" x="2221.7" y="706.45">In App: icons + description per<tspan x="2221.7" dy="7.5">step of brewing process</tspan></text></g>
<g id="pf-r12"><rect class="b" x="2175.7" y="746.4" width="91.6" height="16.2"/><text class="t" x="2221.5" y="756.8">Wait until the beverage is made</text></g>
<g id="pf-d6"><polygon class="d" points="2221.7,773.3 2248.4,800 2221.7,826.7 2195,800"/><text class="t" x="2221.7" y="798.55">Stop/cancel<tspan x="2221.7" dy="7.5">process</tspan></text></g>
<g id="pf-d7"><polygon class="d" points="2294,773.3 2320.7,800 2294,826.7 2267.3,800"/><text class="t" x="2294" y="798.55">Beverage<tspan x="2294" dy="7.5">made</tspan></text></g>
<g id="pf-e5"><ellipse class="e" cx="2367.5" cy="800" rx="24.2" ry="10.7"/><text class="t" x="2367.5" y="802.3">Home screen</text></g>
<g id="pf-d8"><polygon class="d" points="2367.7,826.7 2394.4,853.4 2367.7,880.1 2341,853.4"/><text class="t" x="2367.7" y="855.7">Satisfied</text></g>
<g id="pf-r13"><rect class="b" x="2424" y="762.6" width="75.3" height="15.2"/><text class="t" x="2461.6" y="772.5">Press 3s. beverage again</text></g>
<g id="pf-r14"><rect class="b" x="2175.7" y="843.1" width="91.6" height="16.1"/><text class="t" x="2221.5" y="853.45">Press cancel (x) button</text></g>
<g id="pf-r15"><rect class="b" x="2339.3" y="896.1" width="56.7" height="16.6"/><text class="t" x="2367.6" y="906.7">Remove the cup</text></g>
<g id="pf-r16"><rect class="b" x="2339.3" y="929.2" width="56.7" height="15.9"/><text class="t" x="2367.6" y="939.45">Enjoy beverage</text></g>
<g id="pf-end"><circle class="k" cx="2367.7" cy="961" r="5.4"/></g>
</svg>
